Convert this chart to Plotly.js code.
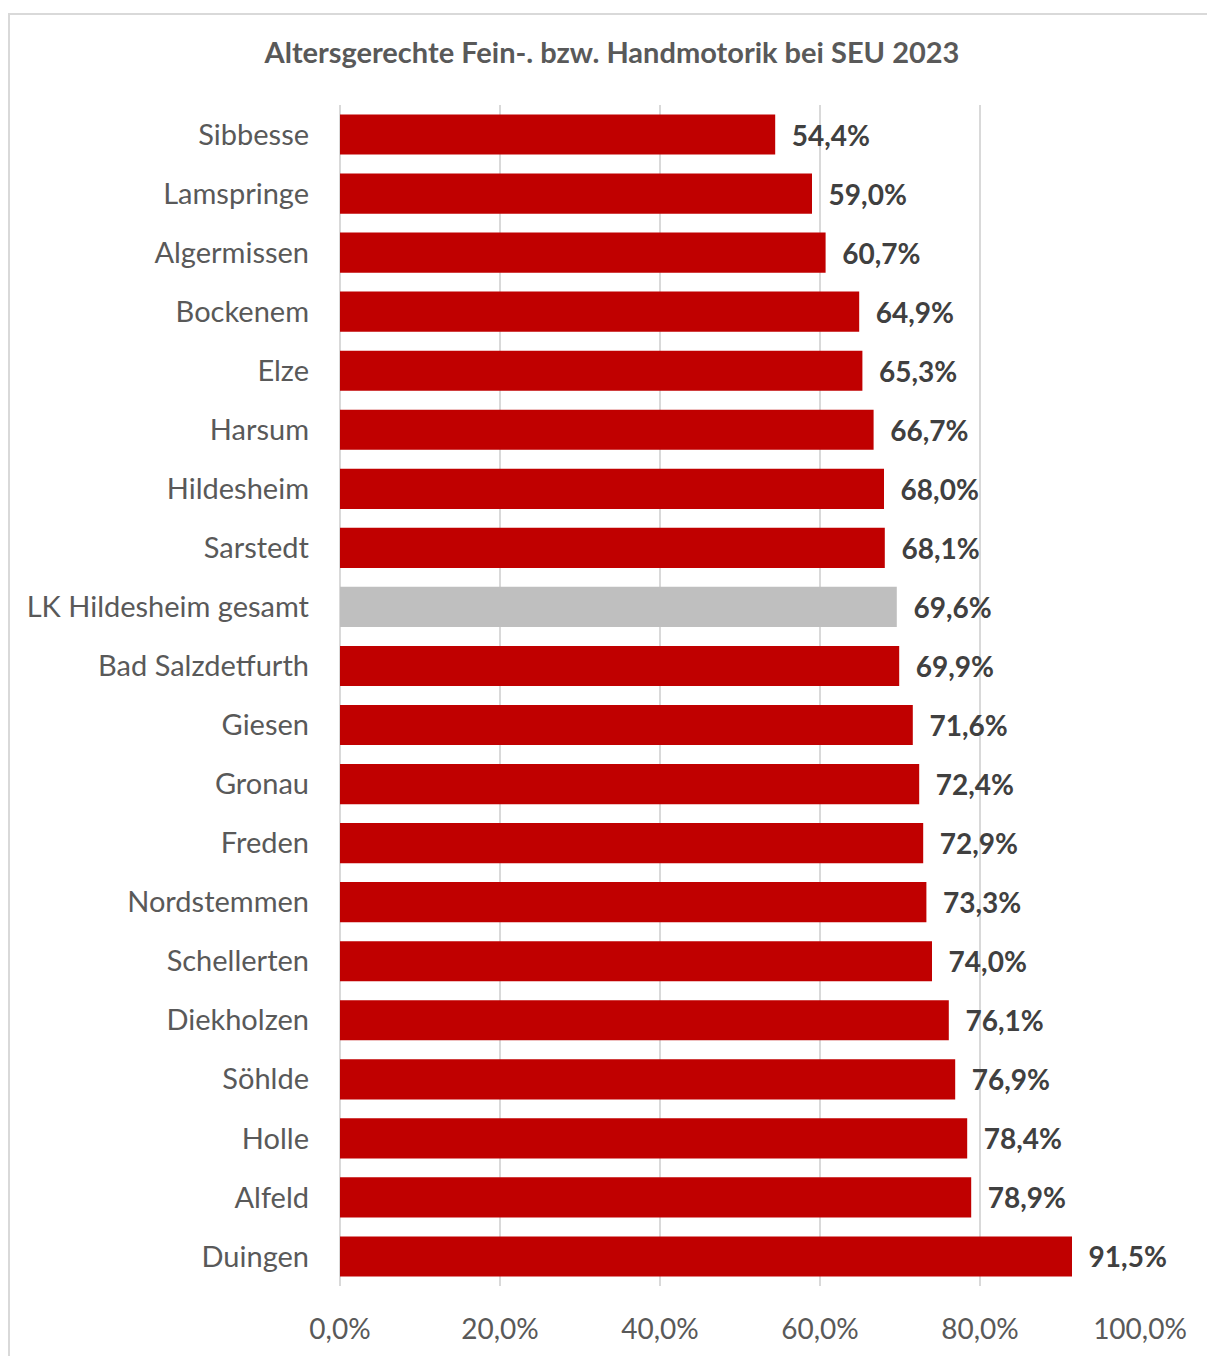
<!DOCTYPE html>
<html>
<head>
<meta charset="utf-8">
<script src="https://cdn.plot.ly/plotly-3.0.1.min.js"></script>
<style>
  html, body { margin: 0; padding: 0; background: #fff; }
  #wrap { position: relative; width: 1207px; height: 1356px; overflow: hidden; }
  #chart { position: absolute; left: 0; top: 0; width: 1207px; height: 1356px; }
  #frame { position: absolute; left: 8px; top: 13px; width: 1240px; height: 1400px;
           border: 2px solid #d9d9d9; box-sizing: border-box; pointer-events: none; }
</style>
</head>
<body>
<div id="wrap">
  <div id="chart"></div>
  <div id="frame"></div>
</div>
<script>
const categories = [
  "Sibbesse", "Lamspringe", "Algermissen", "Bockenem", "Elze", "Harsum",
  "Hildesheim", "Sarstedt", "LK Hildesheim gesamt", "Bad Salzdetfurth",
  "Giesen", "Gronau", "Freden", "Nordstemmen", "Schellerten", "Diekholzen",
  "Söhlde", "Holle", "Alfeld", "Duingen"
];
const values = [
  54.4, 59.0, 60.7, 64.9, 65.3, 66.7, 68.0, 68.1, 69.6, 69.9,
  71.6, 72.4, 72.9, 73.3, 74.0, 76.1, 76.9, 78.4, 78.9, 91.5
];
const highlight = "LK Hildesheim gesamt";
const titleText = "Altersgerechte Fein-. bzw. Handmotorik bei SEU 2023";
const xTicks = [0, 20, 40, 60, 80, 100];
const xTickLabels = ["0,0%", "20,0%", "40,0%", "60,0%", "80,0%", "100,0%"];

const colors = categories.map(c => c === highlight ? "#bfbfbf" : "#c00000");
const FONT = "Lato, 'Open Sans', sans-serif";

const trace = {
  type: "bar",
  orientation: "h",
  y: categories,
  x: values,
  marker: { color: colors, line: { width: 0 } },
  texttemplate: "  %{x:.1f}%",
  textposition: "outside",
  cliponaxis: false,
  textfont: { family: FONT, size: 28, color: "#404040", weight: "bold" },
  hoverinfo: "skip"
};

const layout = {
  width: 1207,
  height: 1356,
  paper_bgcolor: "#ffffff",
  plot_bgcolor: "#ffffff",
  separators: ",.",
  margin: { l: 340, r: 67, t: 105, b: 70, pad: 0 },
  bargap: 0.32,
  showlegend: false,
  title: {
    text: titleText,
    x: 612 / 1207, xref: "container", xanchor: "center",
    y: 1 - 53 / 1356, yref: "container", yanchor: "middle",
    font: { family: FONT, size: 29, color: "#595959", weight: "bold" }
  },
  xaxis: {
    range: [0, 100],
    tickmode: "array",
    tickvals: xTicks,
    ticktext: xTickLabels,
    showgrid: true,
    gridcolor: "#d9d9d9",
    gridwidth: 2,
    zeroline: true,
    zerolinecolor: "#d9d9d9",
    zerolinewidth: 2,
    showline: false,
    ticks: "",
    tickfont: { family: FONT, size: 28, color: "#595959" },
    ticklabelstandoff: 24,
    fixedrange: true
  },
  yaxis: {
    autorange: "reversed",
    type: "category",
    showgrid: false,
    zeroline: false,
    showline: false,
    ticks: "",
    ticklabelstandoff: 30,
    tickfont: { family: FONT, size: 29, color: "#595959" },
    fixedrange: true
  }
};

Plotly.newPlot("chart", [trace], layout, { displayModeBar: false, staticPlot: true });
</script>
</body>
</html>
